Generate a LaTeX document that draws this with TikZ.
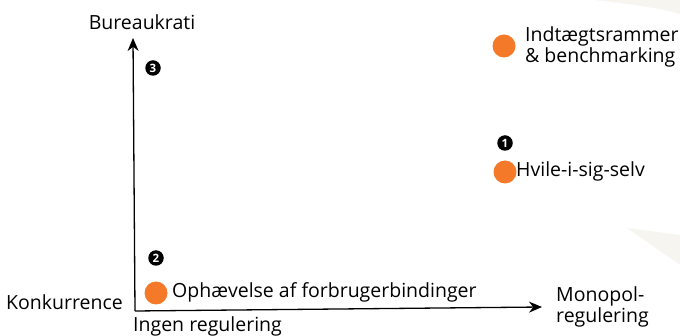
\documentclass[tikz,border=0pt]{standalone}
\usepackage{fontspec}
\setmainfont{Open Sans}
\usetikzlibrary{arrows.meta}
\definecolor{dotorange}{HTML}{F47A2A}
\definecolor{bgbeige}{HTML}{F7F5F0}
\tikzset{
  lbl/.style={font=\fontsize{19.5}{18.5}\selectfont, text=black, inner sep=0pt},
  dot/.style={circle, fill=dotorange, minimum size=23pt, inner sep=0pt},
  num/.style={circle, fill=black, text=white, minimum size=15.5pt, inner sep=0pt, font=\fontsize{11.5}{11.5}\selectfont\bfseries},
  axis/.style={line width=1.3pt, -{Stealth[length=13pt,width=11pt]}}
}
\begin{document}
\begin{tikzpicture}[x=1pt,y=-1pt]
\useasboundingbox (0,0) rectangle (680,336);
\fill[bgbeige] (594,0) .. controls (630,4) and (660,8) .. (680,14) -- (680,0) -- cycle;
\fill[bgbeige] (627,228) -- (680,235) -- (680,265) -- cycle;

\coordinate (o) at (135,311);
\coordinate (ytip) at (133,38);
\coordinate (xtip) at (542,307);
\draw[axis] (o) -- (ytip);
\draw[axis] (o) -- (xtip);

\node[lbl] (bur) at (142,22) {Bureaukrati};
\node[lbl, anchor=east] (konk) at (123,302) {Konkurrence};
\node[lbl, anchor=west] (ingen) at (133,326) {Ingen regulering};
\node[lbl, anchor=west, align=left] (mono) at (556,307) {Monopol-\\regulering};

\node[num] (n3) at (153,68) {3};
\node[num] (n2) at (156,258) {2};
\node[num] (n1) at (505,143) {1};

\node[dot] (d1) at (156,293) {};
\node[lbl, anchor=west] (t1) at (172,292) {Ophævelse af forbrugerbindinger};
\node[dot] (d2) at (505,172) {};
\node[lbl, anchor=west] (t2) at (516,171) {Hvile-i-sig-selv};
\node[dot] (d3) at (504,46) {};
\node[lbl, anchor=west, align=left] (t3) at (525,47) {Indtægtsrammer\\\& benchmarking};
\end{tikzpicture}
\end{document}
